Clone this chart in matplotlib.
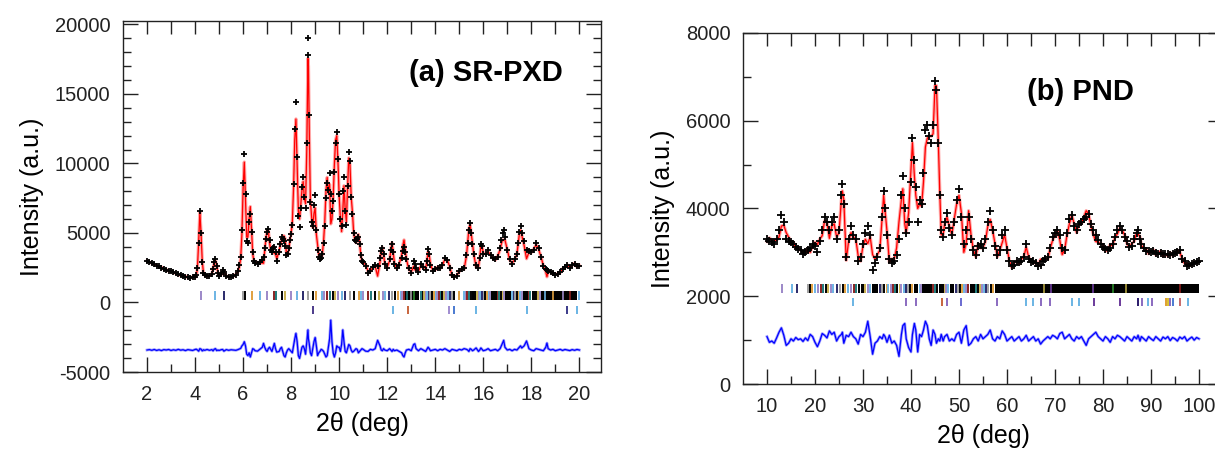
import numpy as np
import matplotlib.pyplot as plt

plt.rcParams['font.family'] = ['Liberation Sans', 'DejaVu Sans']
plt.rcParams['axes.unicode_minus'] = False

# ---------------- (a) SR-PXD ----------------
tth_a = [2.0, 2.1, 2.2, 2.3, 2.4, 2.5, 2.6, 2.7, 2.8, 2.9,
         3.0, 3.1, 3.2, 3.3, 3.4, 3.5, 3.6, 3.7, 3.8, 3.9,
         4.0, 4.05, 4.1, 4.15, 4.2, 4.25, 4.3, 4.35, 4.4, 4.5,
         4.6, 4.7, 4.75, 4.8, 4.85, 4.9, 4.95, 5.0, 5.1, 5.15,
         5.2, 5.3, 5.4, 5.5, 5.6, 5.7, 5.8, 5.85, 5.9, 5.95,
         6.0, 6.05, 6.1, 6.15, 6.2, 6.25, 6.3, 6.35, 6.4, 6.45,
         6.5, 6.6, 6.7, 6.8, 6.85, 6.9, 6.95, 7.0, 7.05, 7.1,
         7.15, 7.2, 7.25, 7.3, 7.35, 7.4, 7.5, 7.55, 7.6, 7.65,
         7.7, 7.75, 7.8, 7.85, 7.9, 7.95, 8.0, 8.05, 8.1, 8.15,
         8.2, 8.25, 8.3, 8.35, 8.4, 8.45, 8.5, 8.55, 8.6, 8.65,
         8.7, 8.72, 8.75, 8.8, 8.85, 8.9, 8.95, 9.0, 9.05, 9.1,
         9.15, 9.2, 9.25, 9.3, 9.35, 9.4, 9.45, 9.5, 9.55, 9.6,
         9.65, 9.7, 9.75, 9.8, 9.85, 9.9, 9.95, 10.0, 10.05, 10.1,
         10.15, 10.2, 10.25, 10.3, 10.35, 10.4, 10.45, 10.5, 10.55, 10.6,
         10.65, 10.7, 10.75, 10.8, 10.85, 10.9, 10.95, 11.0, 11.1, 11.2,
         11.3, 11.4, 11.5, 11.6, 11.7, 11.75, 11.8, 11.85, 11.9, 12.0,
         12.1, 12.15, 12.2, 12.25, 12.3, 12.4, 12.5, 12.6, 12.65, 12.7,
         12.75, 12.8, 12.9, 13.0, 13.1, 13.15, 13.2, 13.3, 13.4, 13.5,
         13.6, 13.65, 13.7, 13.75, 13.8, 13.9, 14.0, 14.1, 14.2, 14.3,
         14.4, 14.5, 14.6, 14.7, 14.8, 14.9, 15.0, 15.1, 15.2, 15.3,
         15.35, 15.4, 15.45, 15.5, 15.55, 15.6, 15.7, 15.8, 15.85, 15.9,
         15.95, 16.0, 16.1, 16.2, 16.3, 16.4, 16.5, 16.6, 16.7, 16.75,
         16.8, 16.85, 16.9, 17.0, 17.1, 17.2, 17.3, 17.4, 17.45, 17.5,
         17.55, 17.6, 17.7, 17.8, 17.9, 18.0, 18.1, 18.2, 18.3, 18.4,
         18.5, 18.6, 18.65, 18.7, 18.8, 18.9, 19.0, 19.1, 19.2, 19.3,
         19.4, 19.5, 19.6, 19.7, 19.8, 19.9, 20.0]
obs_a = [3000, 2920, 2830, 2750, 2660, 2590, 2510, 2440, 2370, 2300,
         2230, 2160, 2100, 2030, 1970, 1910, 1860, 1820, 1790, 1800,
         1850, 1950, 2500, 4300, 6600, 5000, 2900, 2150, 1950, 1900,
         1920, 2050, 2400, 2900, 3100, 2600, 2100, 1900, 2050, 2350,
         2200, 1900, 1850, 1850, 1900, 2000, 2300, 2700, 3300, 5200,
         8600, 10700, 7800, 4400, 4300, 5800, 6400, 5100, 3600, 3000,
         2850, 2800, 2900, 3050, 3300, 3900, 4600, 5100, 5300, 4500,
         3800, 3600, 3900, 4000, 3600, 3000, 3600, 4200, 4700, 4600,
         4400, 4100, 3400, 3500, 3900, 4500, 4900, 5600, 8500, 12500,
         14400, 10500, 6200, 5400, 6800, 8300, 9000, 7600, 6800, 11500,
         19000, 17800, 13500, 7200, 5800, 5500, 7000, 7700, 5200, 3800,
         3250, 3100, 3200, 3500, 4300, 5500, 7500, 8600, 8100, 9300,
         7800, 6600, 7300, 9400, 11500, 12300, 10300, 7800, 6000, 5500,
         8000, 9000, 6600, 5600, 8400, 10800, 10200, 7600, 6400, 5000,
         4500, 4400, 4600, 4700, 4200, 3400, 3000, 2900, 2650, 2150,
         2300, 2550, 2700, 2600, 3200, 3700, 3900, 3500, 2800, 2500,
         3100, 3800, 4200, 3600, 2800, 2450, 2700, 3200, 3700, 4000,
         3600, 3100, 2450, 2150, 3000, 2800, 2450, 2200, 2750, 2550,
         2350, 3000, 3850, 3500, 2700, 2300, 2400, 2500, 2500, 2700,
         3200, 3050, 2500, 1950, 1850, 1900, 2300, 2400, 2500, 3400,
         4300, 5200, 5700, 5000, 4200, 3500, 2700, 2500, 3200, 4200,
         4100, 3500, 3500, 3750, 3400, 3200, 3100, 3300, 3900, 4500,
         5000, 5200, 4700, 3800, 3100, 2800, 3100, 3500, 4300, 5100,
         5500, 5000, 4400, 3800, 3700, 3600, 3800, 4250, 3900, 3300,
         2600, 2400, 2350, 2300, 2200, 2100, 2000, 2050, 2200, 2400,
         2550, 2700, 2500, 2700, 2800, 2600, 2650]
res_a = [0, 30, -20, 40, -30, 20, -40, 30, 0, 40,
         -30, 20, -20, 50, -10, 20, -40, 30, 0, -30,
         40, 60, 0, -80, 100, 60, -60, 20, -20, 40,
         -20, 30, -60, 60, 100, -40, 0, -30, 30, 40,
         -80, 30, -20, 20, 0, -20, 40, 80, 120, 300,
         400, 600, 300, -300, -400, -200, -500, -200, 100, 50,
         -50, -80, 60, 200, 480, 200, 0, -100, 100, 200,
         50, -100, 200, 480, 100, -150, -100, 100, 200, -100,
         -400, -500, -200, 0, 100, 0, -100, -200, 300, 800,
         1200, 600, -400, -600, -200, 200, 300, 100, -300, 600,
         1450, 800, 500, -200, -400, 100, 600, 900, 300, -400,
         -200, -100, 50, 0, -100, -300, -500, -400, 200, 800,
         2150, 600, -200, -500, -200, 300, 200, 200, -100, 400,
         1450, 600, -100, -200, 100, 400, 300, 0, -150, -100,
         0, 100, 50, -200, -100, 0, 100, 50, -80, -100,
         50, 0, 100, 700, 300, 0, -50, 100, 0, -50,
         100, 0, -100, 50, -50, 0, -100, -200, -400, -500,
         -200, 0, 50, -50, 400, 450, 100, -50, 100, 0,
         -100, 50, 200, 100, -50, 0, 50, -50, 50, 0,
         100, 0, -100, 50, 0, -50, 50, 0, 100, 50,
         0, -100, 100, 50, -50, 0, 150, -100, 0, 150,
         50, -50, 0, 100, -50, 0, 50, -50, 100, 300,
         500, 700, 200, 0, 50, -50, 50, 0, 100, 200,
         300, 150, 300, 650, 100, 0, -50, 100, 50, 0,
         -50, 200, 500, 100, 0, 50, -50, 0, 50, -30,
         40, 0, -40, 30, -20, 40, 0]
diff_off_a = -3420

refl_a = [4.24, 4.83, 5.21, 5.99, 6.08, 6.36, 6.71, 6.99, 7.29, 7.36,
          7.61, 7.75, 7.99, 8.24, 8.49, 8.72, 8.9, 9.04, 9.28, 9.38,
          9.49, 9.63, 9.74, 9.83, 9.97, 10.11, 10.25, 10.46, 10.63, 10.81,
          10.9, 11.01, 11.18, 11.32, 11.5, 11.64, 11.82, 11.89, 12.06, 12.19,
          12.33, 12.43, 12.57, 12.63, 12.7, 13.42, 13.47, 13.53, 13.6, 13.66,
          13.73, 13.8, 13.86, 13.93, 14.02, 14.08, 14.15, 14.22, 14.3, 14.36,
          14.44, 14.51, 14.6, 14.68, 14.78, 15.0, 15.21, 15.27, 15.34, 15.41,
          15.47, 15.75, 15.82, 15.88, 15.95, 16.02, 16.08, 16.15, 16.22, 16.28,
          16.6, 16.67, 16.73, 16.8, 16.87, 17.2, 17.26, 17.33, 17.4, 17.47,
          17.53, 17.6, 17.9, 17.96, 18.22, 18.28, 18.35, 19.97]
bands_a = [(12.76, 13.32), (15.52, 15.7), (16.34, 16.55), (16.92, 17.14),
           (17.66, 17.86), (18.02, 18.18), (18.42, 19.92)]
refl_a_over = [12.84, 13.0, 13.12, 18.55, 18.9, 19.3, 19.62]
refl_a_over_col = ['#1e7a7a', '#a0a0a0', '#2a8a2a', '#6cb4e4', '#e0a040',
                   '#9c88c8', '#8a2020']
refl_a2 = [8.89, 12.22, 12.86, 14.58, 14.8, 15.69, 17.81, 19.47, 19.89]
refl_a2_col = ['#4b3a8a', '#6ab4e4', '#c8643c', '#a08cd0', '#4a7ad0',
               '#6ab4e4', '#6ab4e4', '#3a3a8a', '#6ab4e4']

# ---------------- (b) PND ----------------
tth_b = [10.0, 10.5, 11.0, 11.5, 12.0, 12.5, 13.0, 13.5, 14.0, 14.5,
         15.0, 15.5, 16.0, 16.5, 17.0, 17.5, 18.0, 18.5, 19.0, 19.5,
         20.0, 20.5, 21.0, 21.5, 22.0, 22.5, 23.0, 23.5, 24.0, 24.5,
         25.0, 25.5, 25.7, 26.0, 26.5, 27.0, 27.5, 28.0, 28.5, 29.0,
         29.5, 30.0, 30.5, 31.0, 31.5, 32.0, 32.5, 33.0, 33.5, 34.0,
         34.3, 34.6, 35.0, 35.5, 36.0, 36.5, 37.0, 37.5, 38.0, 38.3,
         38.7, 39.0, 39.5, 40.0, 40.3, 40.7, 41.0, 41.4, 41.8, 42.2,
         42.6, 43.0, 43.4, 43.8, 44.2, 44.6, 45.0, 45.3, 45.7, 46.0,
         46.3, 46.7, 47.0, 47.5, 48.0, 48.5, 49.0, 49.5, 50.0, 50.5,
         51.0, 51.5, 52.0, 52.5, 53.0, 53.5, 54.0, 54.5, 55.0, 55.5,
         56.0, 56.5, 57.0, 57.5, 58.0, 58.5, 59.0, 59.5, 60.0, 60.5,
         61.0, 61.5, 62.0, 62.5, 63.0, 63.5, 64.0, 64.5, 65.0, 65.5,
         66.0, 66.5, 67.0, 67.5, 68.0, 68.5, 69.0, 69.5, 70.0, 70.5,
         71.0, 71.5, 72.0, 72.5, 73.0, 73.5, 74.0, 74.5, 75.0, 75.5,
         76.0, 76.5, 77.0, 77.5, 78.0, 78.5, 79.0, 79.5, 80.0, 80.5,
         81.0, 81.5, 82.0, 82.5, 83.0, 83.5, 84.0, 84.5, 85.0, 85.5,
         86.0, 86.5, 87.0, 87.3, 87.7, 88.0, 88.5, 89.0, 89.5, 90.0,
         90.5, 91.0, 91.5, 92.0, 92.5, 93.0, 93.5, 94.0, 94.5, 95.0,
         95.5, 96.0, 96.5, 97.0, 97.5, 98.0, 98.5, 99.0, 99.5, 100.0]
obs_b = [3300, 3250, 3230, 3180, 3300, 3500, 3850, 3700, 3300, 3250,
         3230, 3180, 3120, 3080, 3050, 2960, 3000, 3050, 3100, 3200,
         3150, 3000, 3250, 3500, 3800, 3700, 3500, 3700, 3800, 3300,
         3500, 4300, 4550, 4100, 2900, 3300, 3600, 3400, 3300, 2800,
         2900, 3200, 3450, 3600, 3400, 2600, 2750, 2900, 3100, 3800,
         4400, 4000, 3400, 2850, 2750, 2800, 2950, 3300, 4300, 4750,
         4000, 3450, 3700, 4600, 5600, 5100, 4500, 3700, 4200, 4100,
         4800, 5800, 5900, 5650, 5500, 5900, 6900, 6700, 5500, 4300,
         3500, 3350, 3700, 3900, 3550, 3400, 3700, 4200, 4450, 3800,
         3200, 3500, 3800, 3300, 3050, 2950, 3150, 3200, 3100, 3300,
         3700, 3950, 3500, 3150, 2950, 3050, 3400, 3500, 3050, 2800,
         2700, 2720, 2800, 2780, 2800, 2900, 3200, 2850, 2780, 2800,
         2750, 2700, 2720, 2800, 2850, 2900, 3100, 3350, 3450, 3500,
         3400, 3100, 3050, 3450, 3750, 3850, 3600, 3500, 3650, 3700,
         3750, 3800, 3880, 3650, 3500, 3400, 3280, 3200, 3120, 3080,
         3050, 3100, 3200, 3350, 3500, 3600, 3500, 3350, 3250, 3120,
         3150, 3300, 3450, 3500, 3300, 3200, 3100, 3020, 3020, 3000,
         3020, 2990, 2970, 2980, 2960, 2960, 2970, 2950, 2960, 2980,
         3000, 3050, 2850, 2800, 2700, 2720, 2740, 2760, 2780, 2800]
res_b = [50, -80, -50, -100, 20, 150, 250, 80, -150, -100,
         0, -50, 30, -20, 0, -60, 20, -40, 100, 50,
         -80, -180, -50, 120, 80, 20, 180, 100, 150, -50,
         50, 100, 150, -100, 80, 50, 150, 50, 0, -120,
         100, 50, 150, 400, 50, -350, -100, -50, 50, 0,
         100, 50, -80, 80, -100, -50, -150, -400, 100, 300,
         350, 0, -200, -300, 100, 350, 200, -300, 100, 50,
         200, 400, 300, 0, -150, 200, 100, -100, 0, -50,
         100, -50, 50, 100, -50, 0, -50, 100, 150, -100,
         200, 300, -150, -100, 0, 50, -50, 100, 0, 50,
         100, 200, 0, -50, 50, 0, 180, 100, -50, 0,
         50, -50, 0, 50, -50, 0, 80, -50, 0, 50,
         -50, 0, -120, -50, 0, 50, 0, 80, 50, 0,
         120, 150, 0, 50, 100, 0, -50, 50, 0, 50,
         -50, -150, 0, 50, 100, 150, 50, 0, -50, 50,
         0, -80, 50, 0, 80, 50, 0, -50, 50, 0,
         -50, 50, 0, 80, -50, 50, 0, -50, 50, 0,
         -40, 50, 0, -50, 40, 0, 50, -40, 30, 0,
         -50, 40, 0, 50, -50, 0, 40, -30, 30, 0]
diff_off_b = 1030

refl_b = [13.2, 15.2, 16.25, 18.5, 19.0, 19.45, 19.9, 20.6, 21.15, 21.6,
          22.3, 22.75, 23.4, 23.85, 24.5, 25.2, 25.75, 26.3, 26.9, 27.45,
          28.1, 28.6, 29.1, 30.5, 31.0, 31.4, 33.5, 33.9, 34.4, 34.9,
          35.3, 35.85, 36.2, 36.7, 37.1, 37.65, 38.0, 38.55, 38.9, 39.3,
          39.85, 40.2, 41.8, 42.1, 44.6, 45.05, 45.4, 47.0, 47.35, 47.8,
          49.3, 49.8, 50.2, 50.65, 51.0, 51.45, 51.8, 53.6, 54.0, 54.45,
          54.8, 55.3, 55.7, 56.1, 56.6, 57.0]
bands_b = [(29.5, 30.2), (31.8, 33.2), (40.6, 41.5), (42.3, 44.3),
           (45.8, 46.8), (48.2, 49.0), (52.3, 53.3), (57.6, 100.0)]
refl_b_over = [67.8, 69.2, 78.0, 82.0, 84.8, 96.0]
refl_b_over_col = ['#b0a040', '#6a3a9a', '#6a3a9a', '#2a8a2a', '#b0a040', '#8a1a1a']
refl_b2 = [28.0, 38.9, 41.1, 46.5, 47.5, 50.5, 58.0, 64.0, 65.4, 67.1,
           69.0, 73.5, 75.0, 78.1, 83.6, 87.3, 88.2, 89.4, 90.3, 93.2,
           93.6, 94.0, 94.5, 96.0, 97.8]
refl_b2_col = ['#6ab4e4', '#8a6ac0', '#8a6ac0', '#c8643c', '#8a6ac0',
               '#6a6ad0', '#8a6ac0', '#6ab4e4', '#6ab4e4', '#8a6ac0',
               '#8a6ac0', '#6ab4e4', '#6ab4e4', '#6a3a9a', '#6a3a9a',
               '#2a1a6a', '#8a6ac0', '#6ab4e4', '#8a6ac0', '#e0a030',
               '#d8c030', '#8a6ac0', '#4a7ad0', '#c86a6a', '#6ab4e4']

tick_pal = ['#9c88c8', '#6cb4e4', '#2a2a6a', '#a0a0a0', '#000000', '#e0a040',
            '#6cb4e4', '#9c88c8', '#8a2020', '#1e7a7a', '#000000', '#c8b050']


def draw_panel(ax, x, obs, res, off, refl, bands, over, over_col, refl2, refl2_col,
               row1, row2, ms):
    x = np.array(x)
    obs = np.array(obs, dtype=float)
    res = np.array(res, dtype=float)
    calc = obs - res
    ax.plot(x, calc, color='#ffa8a8', lw=2.4, zorder=2)
    ax.plot(x, calc, color='red', lw=0.9, zorder=3)
    ax.plot(x, obs, '+', color='black', ms=ms, mew=1.3, zorder=4)
    ax.plot(x, res + off, color='#a0a0ff', lw=2.0, zorder=2)
    ax.plot(x, res + off, color='blue', lw=0.9, zorder=3)
    cols = [tick_pal[i % len(tick_pal)] for i in range(len(refl))]
    ax.vlines(refl, row1[0], row1[1], colors=cols, lw=1.4, zorder=2)
    for b0, b1 in bands:
        ax.fill_between([b0, b1], row1[0], row1[1], color='black', lw=0, zorder=2)
    ax.vlines(over, row1[0], row1[1], colors=over_col, lw=1.2, zorder=3)
    ax.vlines(refl2, row2[0], row2[1], colors=refl2_col, lw=1.4, zorder=2)


def style_axes(ax, xmaj, xmin, xtop, ymaj, ymin):
    ax.set_xticks(xmaj)
    ax.set_xticks(xmin, minor=True)
    ax.set_yticks(ymaj)
    ax.set_yticks(ymin, minor=True)
    ax.tick_params(which='both', direction='in', top=False, right=True,
                   colors='#222222', labelsize=14.5, pad=9)
    ax.tick_params(which='major', length=11, width=1.0)
    ax.tick_params(which='minor', length=6, width=1.0)
    for s in ax.spines.values():
        s.set_color('#222222')
        s.set_linewidth(1.0)
    top = ax.secondary_xaxis('top')
    top.set_xticks(xtop)
    top.tick_params(direction='in', length=9, width=1.0, colors='#222222',
                    labeltop=False)
    top.spines['top'].set_visible(False)
    ax.set_xlabel('2θ (deg)', fontsize=18, labelpad=6)
    ax.set_ylabel('Intensity (a.u.)', fontsize=18, labelpad=8)


fig = plt.figure(figsize=(12.15, 4.5), dpi=100)
ax1 = fig.add_axes([123 / 1215, 78 / 450, 478 / 1215, 351 / 450])
ax2 = fig.add_axes([743 / 1215, 66 / 450, 480 / 1215, 351 / 450])

draw_panel(ax1, tth_a, obs_a, res_a, diff_off_a, refl_a, bands_a,
           refl_a_over, refl_a_over_col, refl_a2, refl_a2_col,
           (170, 850), (-850, -250), 4.0)
ax1.set_xlim(1, 20.9)
ax1.set_ylim(-5000, 20250)
style_axes(ax1, range(2, 21, 2), range(3, 20, 2), range(2, 21),
           range(-5000, 20001, 5000), range(-5000, 20001, 1000))
ax1.text(0.76, 0.852, '(a) SR-PXD', transform=ax1.transAxes, ha='center',
         va='center', fontsize=21, fontweight='bold')

draw_panel(ax2, tth_b, obs_b, res_b, diff_off_b, refl_b, bands_b,
           refl_b_over, refl_b_over_col, refl_b2, refl_b2_col,
           (2080, 2280), (1770, 1960), 5.5)
ax2.set_xlim(5, 105)
ax2.set_ylim(0, 8000)
style_axes(ax2, range(10, 101, 10), range(15, 96, 10), range(10, 101, 5),
           range(0, 8001, 2000), range(0, 8001, 1000))
ax2.text(0.702, 0.832, '(b) PND', transform=ax2.transAxes, ha='center',
         va='center', fontsize=21, fontweight='bold')

fig.savefig('out.png', dpi=100)
